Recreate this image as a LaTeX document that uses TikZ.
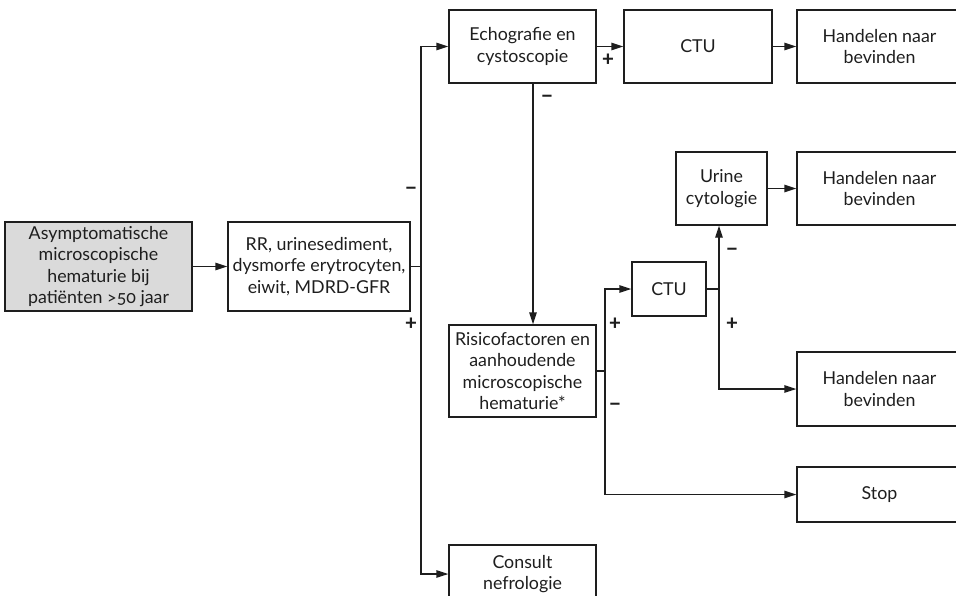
\documentclass[tikz,border=0pt]{standalone}
\usepackage{fontspec}
\setmainfont[Numbers=OldStyle]{Lato}
\usetikzlibrary{arrows.meta,calc}
\definecolor{boxgray}{RGB}{218,218,218}
\definecolor{ink}{RGB}{30,30,30}
\begin{document}
\begin{tikzpicture}[x=1pt,y=-1pt,
  every node/.style={font=\fontsize{17.8}{21.3}\selectfont, text=ink},
  box/.style={draw=ink, line width=1.3pt, align=center, inner sep=0pt},
  arr/.style={draw=ink, line width=1.3pt, -{Triangle[length=12pt,width=7.5pt]}},
  ln/.style={draw=ink, line width=1.3pt},
  sgn/.style={font=\fontsize{22}{24}\selectfont\bfseries}]
\useasboundingbox (0,0) rectangle (956,595);
% nodes
\node[box, fill=boxgray, minimum width=187pt, minimum height=89pt] (b1) at (98.5,266.5)
  {Asymptomatische\\microscopische\\hematurie bij\\patiënten >50 jaar};
\node[box, minimum width=182pt, minimum height=89pt] (b2) at (319,266.5)
  {RR, urinesediment,\\dysmorfe erytrocyten,\\eiwit, MDRD-GFR};
\node[box, minimum width=147pt, minimum height=73pt] (echo) at (522.5,46.5)
  {Echografie en\\cystoscopie};
\node[box, minimum width=148pt, minimum height=73pt] (ctu1) at (698,46.5) {CTU};
\node[box, minimum width=165pt, minimum height=73pt] (h1) at (879.5,46.5)
  {Handelen naar\\bevinden};
\node[box, minimum width=91pt, minimum height=73pt] (uri) at (721.5,188.5)
  {Urine\\cytologie};
\node[box, minimum width=165pt, minimum height=73pt] (h2) at (879.5,188.5)
  {Handelen naar\\bevinden};
\node[box, minimum width=74pt, minimum height=54pt] (ctu2) at (669,289) {CTU};
\node[box, minimum width=147pt, minimum height=92pt] (ris) at (522.5,371)
  {Risicofactoren en\\aanhoudende\\microscopische\\hematurie*};
\node[box, minimum width=165pt, minimum height=74pt] (h3) at (879.5,389)
  {Handelen naar\\bevinden};
\node[box, minimum width=165pt, minimum height=55pt] (stop) at (879.5,494.5) {Stop};
\node[box, minimum width=147pt, minimum height=58pt] (cons) at (522.5,574)
  {Consult\\nefrologie};
% junctions
\coordinate (j1) at (421,266.5);
\coordinate (j2) at (605,371);
\coordinate (j3) at (719,289);
% connectors
\draw[arr] (b1) -- (b2);
\draw[ln] (b2.east) -- (j1);
\draw[arr] (j1) |- (echo.west);
\draw[arr] (j1) |- (cons.west);
\draw[arr] (echo) -- (ctu1);
\draw[arr] (ctu1) -- (h1);
\draw[arr] ([xshift=10.5pt]echo.south) -- ([xshift=10.5pt]ris.north);
\draw[ln] (ris.east) -- (j2);
\draw[arr] (j2) |- (ctu2.west);
\draw[arr] (j2) |- (stop.west);
\draw[ln] (ctu2.east) -- (j3);
\draw[arr] (j3) -- (j3 |- uri.south);
\draw[arr] (j3) |- (h3.west);
\draw[arr] (uri) -- (h2);
% signs
\node[sgn] (s1) at (411,191) {−};
\node[sgn] (s2) at (411,324) {+};
\node[sgn] (s3) at (608,60) {+};
\node[sgn] (s4) at (547,99) {−};
\node[sgn] (s5) at (615,324) {+};
\node[sgn] (s6) at (615,407) {−};
\node[sgn] (s7) at (732,252) {−};
\node[sgn] (s8) at (732,324) {+};
\end{tikzpicture}
\end{document}
